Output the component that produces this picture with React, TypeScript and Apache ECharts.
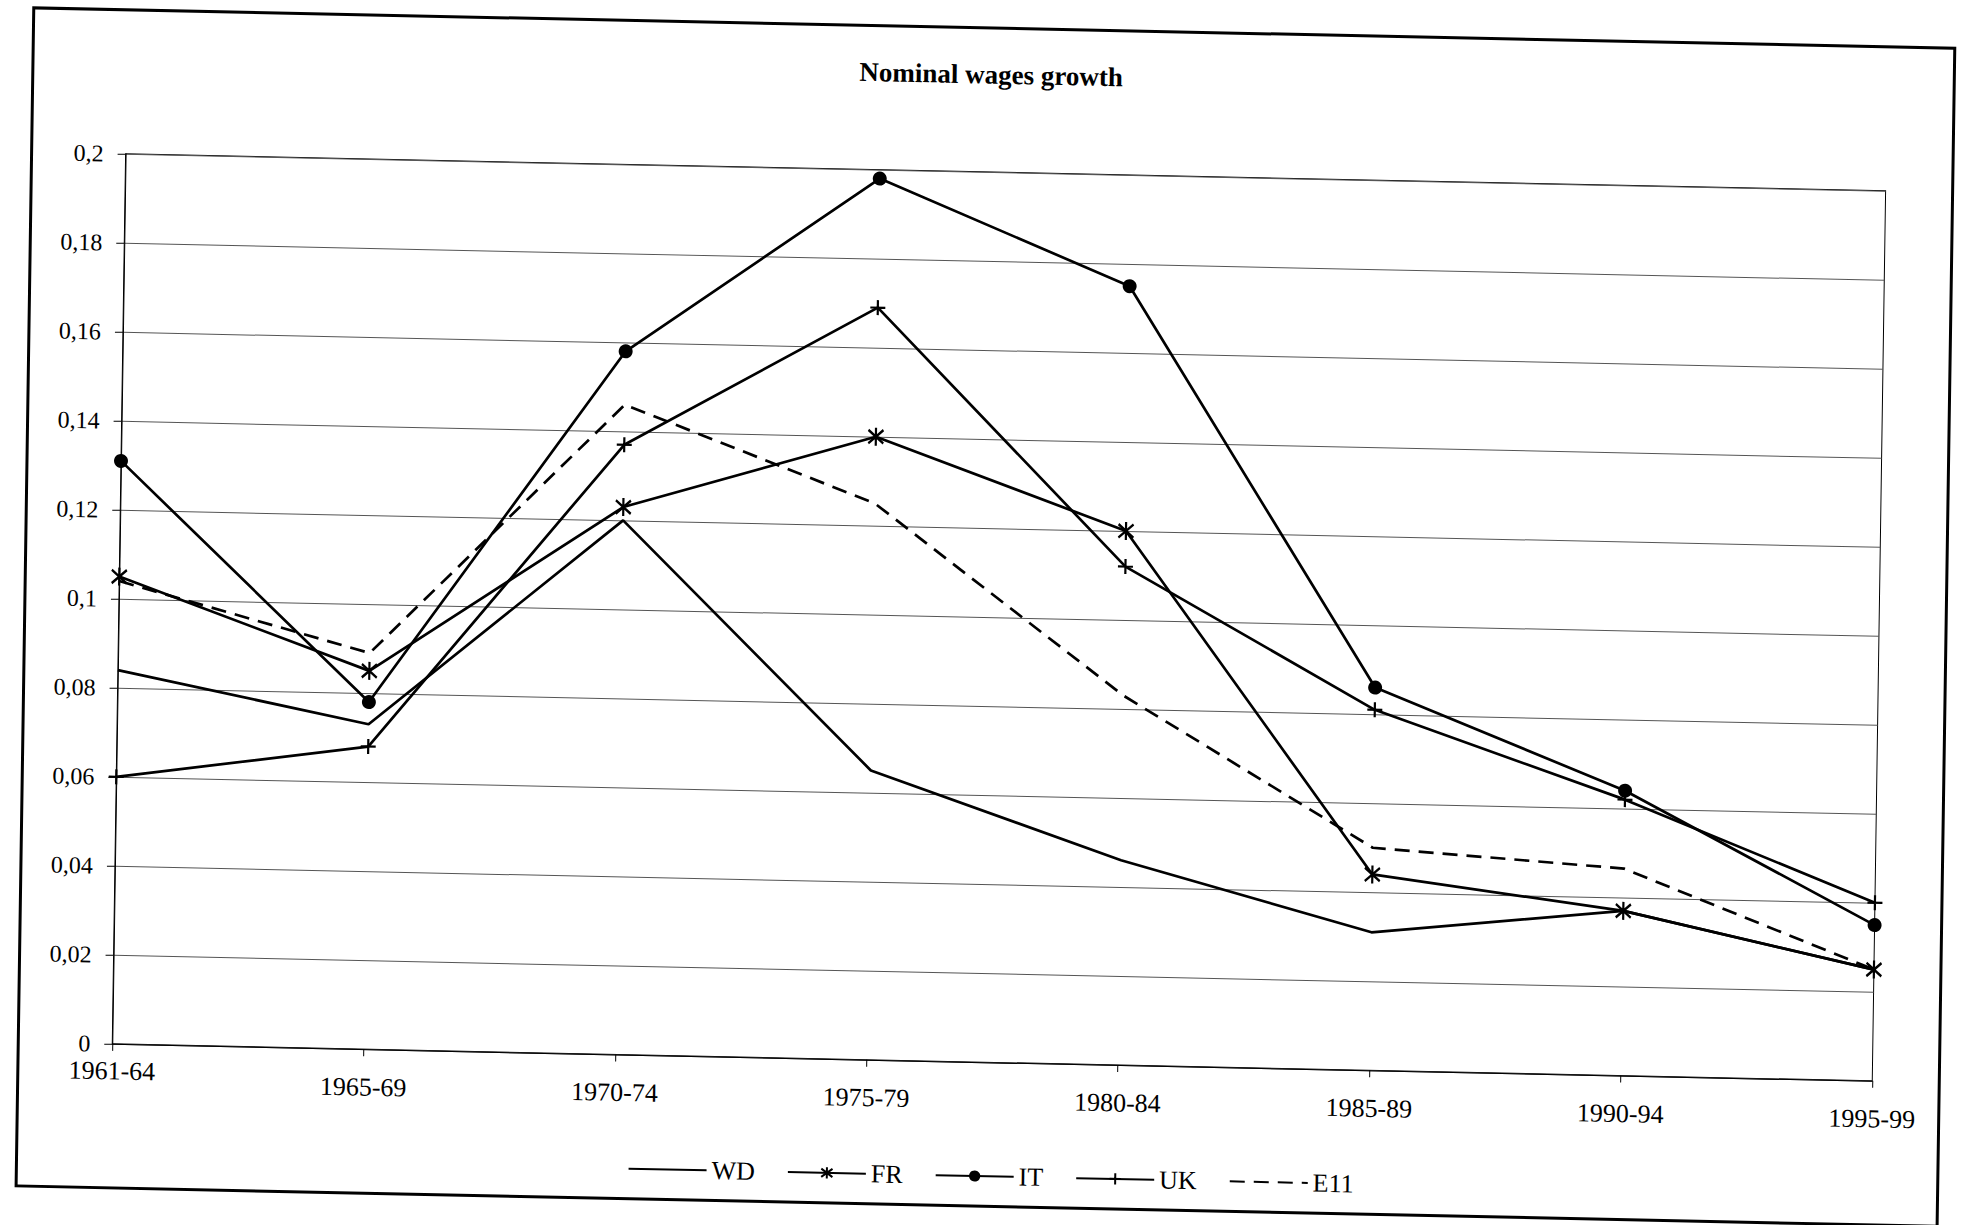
import React, { useEffect, useRef } from 'react';
import * as echarts from 'echarts';

const categories = ['1961-64', '1965-69', '1970-74', '1975-79', '1980-84', '1985-89', '1990-94', '1995-99'];
const wdValues = [0.084, 0.073, 0.12, 0.065, 0.046, 0.031, 0.037, 0.025];
const frValues = [0.105, 0.085, 0.123, 0.14, 0.12, 0.044, 0.037, 0.025];
const itValues = [0.131, 0.078, 0.158, 0.198, 0.175, 0.086, 0.064, 0.035];
const ukValues = [0.06, 0.068, 0.137, 0.169, 0.112, 0.081, 0.062, 0.04];
const e11Values = [0.104, 0.089, 0.146, 0.125, 0.083, 0.05, 0.0465, 0.025];
const yTickLabels = ['0', '0,02', '0,04', '0,06', '0,08', '0,1', '0,12', '0,14', '0,16', '0,18', '0,2'];
const titleText = 'Nominal wages growth';

const FONT = '"Liberation Serif", "Times New Roman", serif';

export default function App() {
  const ref = useRef<HTMLDivElement>(null);

  useEffect(() => {
    if (!ref.current) return;
    document.body.style.overflow = 'hidden';
    const chart = echarts.init(ref.current, null, { renderer: 'svg' });
    const lineW = 2.7;
    const hidden = 'rgba(0,0,0,0)';
    chart.setOption({
      animation: false,
      backgroundColor: '#fff',
      title: {
        text: titleText,
        left: 'center',
        top: 56,
        textStyle: { fontFamily: FONT, fontWeight: 'bold', fontSize: 27, color: '#000' },
      },
      graphic: [
        {
          type: 'rect',
          shape: { x: 25, y: 28, width: 1921, height: 1178 },
          style: { fill: 'none', stroke: '#000', lineWidth: 3 },
          silent: true,
        },
      ],
      legend: {
        left: 631,
        top: 1158,
        itemWidth: 78,
        itemHeight: 14,
        itemGap: 32,
        textStyle: { fontFamily: FONT, fontSize: 26, color: '#000' },
        data: ['WD', 'FR', 'IT', 'UK', 'E11'],
      },
      grid: {
        left: 119,
        right: 87,
        top: 172,
        bottom: 163,
        show: true,
        borderColor: '#000',
        borderWidth: 1,
        containLabel: false,
      },
      xAxis: {
        type: 'category',
        data: categories,
        boundaryGap: false,
        axisLine: { lineStyle: { color: '#000', width: 1 } },
        axisTick: { show: true, length: 7, lineStyle: { color: '#000' } },
        axisLabel: {
          margin: 25,
          fontFamily: FONT,
          fontSize: 26,
          color: '#000',
          formatter: (v: string, i: number) => (i === 0 ? `{f|${v}}` : v),
          rich: { f: { fontFamily: FONT, fontSize: 26, color: '#000', lineHeight: 4 } },
        },
        splitLine: { show: false },
      },
      yAxis: {
        type: 'value',
        min: 0,
        max: 0.2,
        interval: 0.02,
        axisLine: { show: true, lineStyle: { color: '#000', width: 1 } },
        axisTick: { show: true, length: 8, lineStyle: { color: '#000' } },
        axisLabel: {
          margin: 22,
          fontFamily: FONT,
          fontSize: 24,
          color: '#000',
          formatter: (v: number) => yTickLabels[Math.round(v / 0.02)] ?? '',
        },
        splitLine: { show: true, lineStyle: { color: '#555', width: 1 } },
      },
      series: [
        {
          name: 'WD',
          type: 'line',
          data: wdValues,
          symbol: 'circle',
          showSymbol: false,
          lineStyle: { color: '#000', width: lineW },
          itemStyle: { color: hidden, borderColor: hidden, borderWidth: 0 },
        },
        {
          name: 'FR',
          type: 'line',
          data: frValues,
          symbol: 'path://M-1,-1L1,1M-1,1L1,-1M0,-1.35L0,1.35',
          symbolSize: [15, 18],
          lineStyle: { color: '#000', width: lineW },
          itemStyle: { color: '#000', borderColor: '#000', borderWidth: 2.4 },
        },
        {
          name: 'IT',
          type: 'line',
          data: itValues,
          symbol: 'circle',
          symbolSize: 14,
          lineStyle: { color: '#000', width: lineW },
          itemStyle: { color: '#000', borderColor: '#000', borderWidth: 0 },
        },
        {
          name: 'UK',
          type: 'line',
          data: ukValues,
          symbol: 'path://M-1,0L1,0M0,-1L0,1',
          symbolSize: 15,
          lineStyle: { color: '#000', width: lineW },
          itemStyle: { color: '#000', borderColor: '#000', borderWidth: 2.2 },
        },
        {
          name: 'E11',
          type: 'line',
          data: e11Values,
          symbol: 'circle',
          showSymbol: false,
          lineStyle: { color: '#000', width: lineW, type: [15, 9] },
          itemStyle: { color: hidden, borderColor: hidden, borderWidth: 0 },
        },
      ],
    });
    return () => {
      chart.dispose();
    };
  }, []);

  return (
    <div
      style={{
        position: 'absolute',
        left: 0,
        top: 0,
        width: 1966,
        height: 1225,
        overflow: 'hidden',
        background: '#fff',
      }}
    >
      <div
        ref={ref}
        style={{
          width: 1966,
          height: 1225,
          transform: 'matrix(1, 0.021, -0.015, 1, 0, 0)',
          transformOrigin: '983px 612.5px',
        }}
      />
    </div>
  );
}
